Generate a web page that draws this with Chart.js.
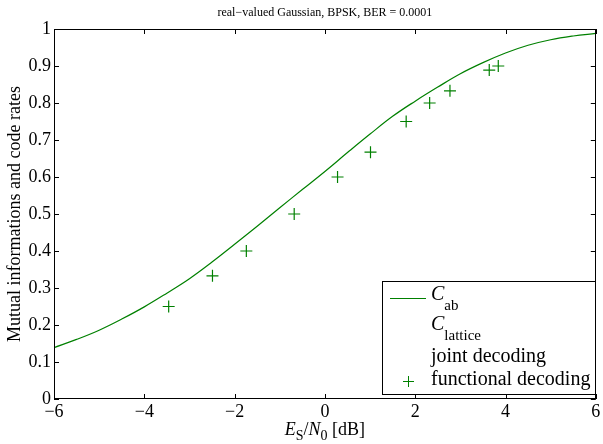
<!DOCTYPE html>
<html>
<head>
<meta charset="utf-8">
<script src="https://cdn.jsdelivr.net/npm/chart.js@4.4.1/dist/chart.umd.min.js"></script>
<style>
  html, body { margin: 0; padding: 0; background: #fff; }
  #wrap { width: 603px; height: 444px; position: relative; }
</style>
</head>
<body>
<div id="wrap"><canvas id="chartCapacite"></canvas></div>
<script>
// C_ab curve (Es/N0 in dB -> mutual information)
const capX = [-6, -5.5, -5, -4.5, -4, -3.5, -3, -2.5, -2, -1.5, -1, -0.5, 0, 0.5, 1, 1.5, 2, 2.5, 3, 3.5, 4, 4.5, 5, 5.5, 6];
const capY = [0.139, 0.161, 0.186, 0.216, 0.249, 0.286, 0.325, 0.370, 0.418, 0.467, 0.517, 0.566, 0.615, 0.666, 0.716, 0.764, 0.805, 0.843, 0.879, 0.909, 0.935, 0.956, 0.971, 0.981, 0.988];

// functional decoding (code rates)
const funcX = [-3.46, -2.49, -1.74, -0.68, 0.28, 1.01, 1.80, 2.32, 2.77, 3.64, 3.84];
const funcY = [0.25, 0.333, 0.4, 0.5, 0.6, 0.667, 0.75, 0.8, 0.833, 0.889, 0.9];

const xTicks = [-6, -4, -2, 0, 2, 4, 6];
const yTicks = [0, 0.1, 0.2, 0.3, 0.4, 0.5, 0.6, 0.7, 0.8, 0.9, 1];

const titre = "real\u2212valued Gaussian, BPSK, BER = 0.0001";
const labelY = "Mutual informations and code rates";

const VERT = '#008000';
const SERIF = "'Liberation Serif', 'Times New Roman', serif";

// draw "C" + subscript etc.
function texteIndice(ctx, x, y, main, sub, size, subSize) {
    ctx.font = 'italic ' + size + 'px ' + SERIF;
    ctx.fillText(main, x, y);
    let w = ctx.measureText(main).width;
    ctx.font = subSize + 'px ' + SERIF;
    ctx.fillText(sub, x + w, y + 11);
}

const decor = {
    id: 'decor',
    afterDraw(chart) {
        const ctx = chart.ctx;
        const a = chart.chartArea;
        const sx = chart.scales.x, sy = chart.scales.y;
        ctx.save();

        // frame
        ctx.strokeStyle = '#000';
        ctx.lineWidth = 1;
        ctx.strokeRect(Math.round(a.left) + 0.5, Math.round(a.top) + 0.5,
            Math.round(a.right - a.left) - 1, Math.round(a.bottom - a.top) - 1);

        // ticks pointing inward
        ctx.beginPath();
        xTicks.forEach(v => {
            const px = Math.round(sx.getPixelForValue(v)) + 0.5;
            ctx.moveTo(px, a.bottom); ctx.lineTo(px, a.bottom - 5);
            ctx.moveTo(px, a.top); ctx.lineTo(px, a.top + 5);
        });
        yTicks.forEach(v => {
            const py = Math.round(sy.getPixelForValue(v)) + 0.5;
            ctx.moveTo(a.left, py); ctx.lineTo(a.left + 5, py);
            ctx.moveTo(a.right, py); ctx.lineTo(a.right - 5, py);
        });
        ctx.stroke();

        // title
        ctx.fillStyle = '#000';
        ctx.textAlign = 'center';
        ctx.textBaseline = 'middle';
        ctx.font = '12px ' + SERIF;
        ctx.fillText(titre, (a.left + a.right) / 2, 13);

        // y label
        ctx.save();
        ctx.translate(15, (a.top + a.bottom) / 2);
        ctx.rotate(-Math.PI / 2);
        ctx.font = '18px ' + SERIF;
        ctx.fillText(labelY, 0, 0);
        ctx.restore();

        // x label : E_S/N_0 [dB]
        ctx.textAlign = 'left';
        ctx.textBaseline = 'alphabetic';
        const parts = [
            ['E', 'italic 18px ', 0], ['S', '14px ', 5], ['/', '18px ', 0],
            ['N', 'italic 18px ', 0], ['0', '14px ', 5], [' [dB]', '18px ', 0]
        ];
        let total = 0;
        parts.forEach(p => { ctx.font = p[1] + SERIF; total += ctx.measureText(p[0]).width; });
        let cx = (a.left + a.right) / 2 - total / 2;
        parts.forEach(p => {
            ctx.font = p[1] + SERIF;
            ctx.fillText(p[0], cx, 435 + p[2]);
            cx += ctx.measureText(p[0]).width;
        });

        // legend
        const lx = 382, ly = 281, lw = 213, lh = 113;
        ctx.fillStyle = '#fff';
        ctx.fillRect(lx, ly, lw, lh);
        ctx.strokeStyle = '#000';
        ctx.strokeRect(lx + 0.5, ly + 0.5, lw, lh);

        ctx.strokeStyle = VERT;
        ctx.beginPath();
        ctx.moveTo(390, 298.5); ctx.lineTo(426, 298.5);
        ctx.stroke();

        ctx.fillStyle = '#000';
        ctx.textBaseline = 'middle';
        texteIndice(ctx, 431, 295, 'C', 'ab', 20, 15);
        texteIndice(ctx, 431, 325, 'C', 'lattice', 20, 15);
        ctx.font = '20px ' + SERIF;
        ctx.fillText('joint decoding', 431, 357);
        ctx.fillText('functional decoding', 431, 380);

        ctx.strokeStyle = VERT;
        ctx.beginPath();
        ctx.moveTo(403, 381.5); ctx.lineTo(414, 381.5);
        ctx.moveTo(408.5, 376); ctx.lineTo(408.5, 387);
        ctx.stroke();

        ctx.restore();
    }
};

const data = {
    datasets: [{
        label: 'C_ab',
        data: capX.map((x, i) => ({x: x, y: capY[i]})),
        showLine: true,
        borderColor: VERT,
        borderWidth: 1.2,
        pointRadius: 0,
        tension: 0.4,
        order: 2
    }, {
        label: 'functional decoding',
        data: funcX.map((x, i) => ({x: x, y: funcY[i]})),
        showLine: false,
        pointStyle: 'cross',
        pointRadius: 6,
        pointBorderWidth: 1.2,
        borderColor: VERT,
        backgroundColor: VERT,
        order: 1
    }]
};

const config = {
    type: 'scatter',
    data,
    options: {
        responsive: false,
        animation: false,
        layout: { padding: { top: 29, right: 4, left: 0, bottom: 0 } },
        scales: {
            x: {
                min: -6, max: 6,
                grid: { display: false, drawTicks: false },
                border: { display: false },
                afterFit(s) { s.height = 45; },
                ticks: {
                    stepSize: 2,
                    padding: 2,
                    color: '#000',
                    font: { family: SERIF, size: 18 },
                    maxRotation: 0,
                    callback: v => v < 0 ? '\u2212' + (-v) : '' + v
                }
            },
            y: {
                min: 0, max: 1,
                grid: { display: false, drawTicks: false },
                border: { display: false },
                afterFit(s) { s.width = 54; },
                ticks: {
                    stepSize: 0.1,
                    padding: 3,
                    color: '#000',
                    font: { family: SERIF, size: 18 },
                    callback: v => '' + (+v.toFixed(1))
                }
            }
        },
        plugins: {
            legend: { display: false },
            tooltip: { enabled: false }
        }
    },
    plugins: [decor]
};

const canvas = document.getElementById('chartCapacite');
canvas.width = 603;
canvas.height = 444;
const myChart = new Chart(canvas, config);
</script>
</body>
</html>
